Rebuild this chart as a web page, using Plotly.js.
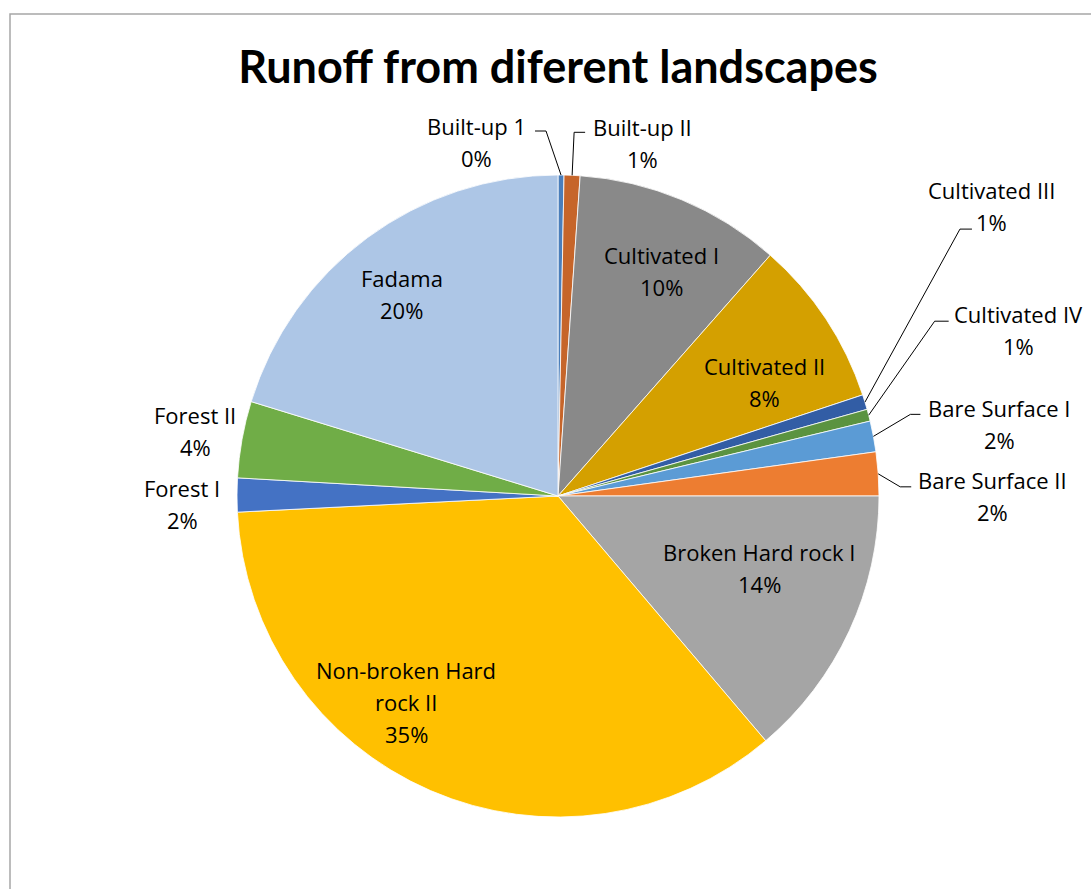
<!DOCTYPE html>
<html>
<head>
<meta charset="utf-8">
<script src="https://cdn.plot.ly/plotly-3.0.1.min.js"></script>
<style>
  html, body { margin: 0; padding: 0; background: #ffffff; }
  #chart { width: 1091px; height: 889px; }
</style>
</head>
<body>
<div id="chart"></div>
<script>
// ---------------- DATA ----------------
const categories = [
  'Built-up 1', 'Built-up II', 'Cultivated I', 'Cultivated II',
  'Cultivated III', 'Cultivated IV', 'Bare Surface I', 'Bare Surface II',
  'Broken Hard rock I', 'Non-broken Hard rock II', 'Forest I', 'Forest II', 'Fadama'
];
const runoffShare = [0.3, 0.8, 10.4, 8.4, 0.75, 0.6, 1.55, 2.2, 13.8, 35.4, 1.7, 3.85, 20.25];
const chartTitle = 'Runoff from diferent landscapes';

// ---------------- STYLE ----------------
const sliceColors = [
  '#4A7EBB', '#C6652A', '#898989', '#D4A000',
  '#325DA5', '#5B9340', '#5B9BD5', '#ED7D31',
  '#A5A5A5', '#FFC000', '#4472C4', '#70AD47', '#ADC6E6'
];
// label placement (layout only): anchor radius factor, text offset (px) from anchor,
// optional leader elbow offset (px) from anchor + horizontal run, wrap width
const labelStyle = [
  {rf: 1, off: [-85, -49], leader: [-15, -44, -11]},
  {rf: 1, off: [70, -48], leader: [2, -43, 11]},
  {rf: 0.75, off: [11, -19]},
  {rf: 0.75, off: [6, 3]},
  {rf: 1, off: [127, -212], leader: [95, -173, 12]},
  {rf: 1, off: [150, -101], leader: [66, -94, 14]},
  {rf: 1, off: [126, -28], leader: [37, -22, 10]},
  {rf: 1, off: [114, 6], leader: [22, 13, 11]},
  {rf: 0.75, off: [-17, -45]},
  {rf: 0.75, off: [-56, -47], wrap: 16},
  {rf: 1, off: [-55, -7]},
  {rf: 1, off: [-47, -24]},
  {rf: 0.75, off: [-13, -24]}
];
const W = 1091, H = 889;
const pieCx = 558, pieCy = 496, pieR = 321;
const lineGap = 32;
const labelFont = {family: '"Open Sans", Lato, sans-serif', size: 22, color: '#000000'};

// ---------------- BUILD ----------------
const px2x = p => p / W;
const py2y = p => 1 - p / H;
const total = runoffShare.reduce((a, b) => a + b, 0);

function wrapText(s, n) {
  if (!n) return [s];
  const words = s.split(' ');
  const lines = [];
  let cur = '';
  words.forEach(w => {
    const t = cur ? cur + ' ' + w : w;
    if (t.length > n && cur) { lines.push(cur); cur = w; } else { cur = t; }
  });
  if (cur) lines.push(cur);
  return lines;
}

const annotations = [];
const shapes = [];
let cum = 0;
runoffShare.forEach((v, i) => {
  const mid = (cum + v / 2) / total;
  cum += v;
  const th = mid * 2 * Math.PI;
  const st = labelStyle[i];
  const ax = pieCx + pieR * st.rf * Math.sin(th);
  const ay = pieCy - pieR * st.rf * Math.cos(th);
  const pct = Math.round(v / total * 100) + '%';
  const lines = wrapText(categories[i], st.wrap).concat([pct]);
  const tx = ax + st.off[0];
  let ty = ay + st.off[1];
  lines.forEach((ln, k) => {
    annotations.push({
      x: px2x(tx), y: py2y(ty + k * lineGap), xref: 'paper', yref: 'paper',
      text: ln, showarrow: false, xanchor: 'center', yanchor: 'middle',
      font: labelFont
    });
  });
  if (st.leader) {
    const ex = ax + st.leader[0], ey = ay + st.leader[1];
    const hx = ex + st.leader[2];
    shapes.push({
      type: 'path', xref: 'paper', yref: 'paper',
      path: `M ${px2x(ax)} ${py2y(ay)} L ${px2x(ex)} ${py2y(ey)} L ${px2x(hx)} ${py2y(ey)}`,
      line: {color: '#000000', width: 1}
    });
  }
});

// chart border (partially visible frame)
shapes.push({
  type: 'rect', xref: 'paper', yref: 'paper',
  x0: px2x(10), y0: py2y(1000), x1: px2x(1200), y1: py2y(14),
  line: {color: '#A6A6A6', width: 1.5}, fillcolor: 'rgba(0,0,0,0)', layer: 'below'
});

const trace = {
  type: 'pie',
  labels: categories,
  values: runoffShare,
  sort: false,
  direction: 'clockwise',
  rotation: 0,
  textinfo: 'none',
  hoverinfo: 'label+percent',
  marker: {colors: sliceColors, line: {color: '#ffffff', width: 0.8}},
  domain: {
    x: [px2x(pieCx - pieR), px2x(pieCx + pieR)],
    y: [py2y(pieCy + pieR), py2y(pieCy - pieR)]
  },
  showlegend: false
};

const layout = {
  width: W, height: H,
  margin: {l: 0, r: 0, t: 0, b: 0},
  paper_bgcolor: '#ffffff',
  showlegend: false,
  title: {
    text: '<b>' + chartTitle + '</b>',
    font: {family: 'Lato, "Open Sans", sans-serif', size: 45, color: '#000000'},
    x: px2x(558), xanchor: 'center', y: py2y(67), yanchor: 'middle', xref: 'paper', yref: 'paper'
  },
  annotations: annotations,
  shapes: shapes
};

Plotly.newPlot('chart', [trace], layout, {displayModeBar: false, staticPlot: true});
</script>
</body>
</html>
